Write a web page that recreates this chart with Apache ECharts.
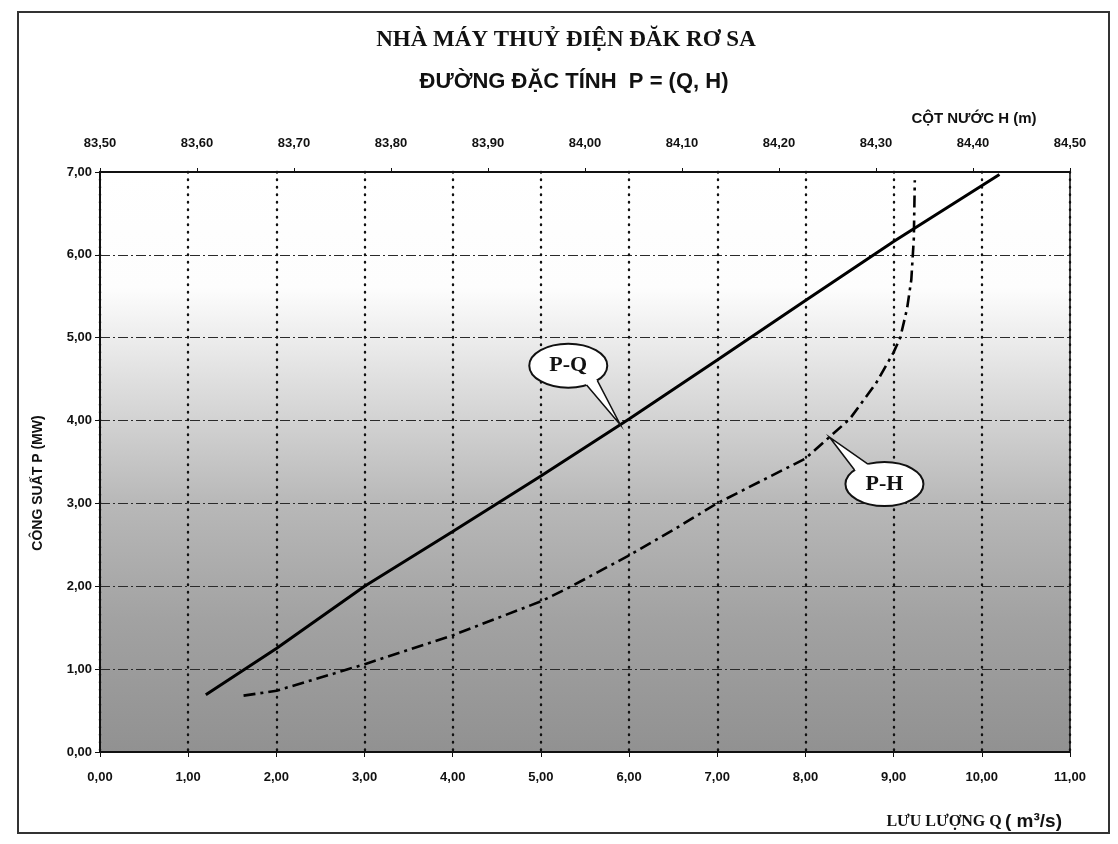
<!DOCTYPE html>
<html>
<head>
<meta charset="utf-8">
<title>Đường đặc tính P = (Q, H)</title>
<script src="https://cdn.jsdelivr.net/npm/echarts@6.0.0/dist/echarts.min.js"></script>
<style>
html, body { margin: 0; padding: 0; background: #fff; }
#chart { width: 1118px; height: 844px; }
</style>
</head>
<body>
<div id="chart"></div>
<script>
// đường P-Q : lưu lượng Q (m3/s) -> công suất P (MW)
var pqFlow  = [1.2, 2.0, 3.0, 4.0, 5.0, 6.0, 7.0, 8.0, 9.0, 10.2];
var pqPower = [0.69, 1.25, 2.0, 2.66, 3.33, 4.02, 4.73, 5.45, 6.16, 6.97];

// đường P-H : cột nước H (m) -> công suất P (MW)
var phHead  = [83.648, 83.682, 83.742, 83.773, 83.864, 83.955, 83.986, 84.045, 84.091, 84.136,
               84.227, 84.273, 84.300, 84.318, 84.325, 84.332, 84.3364, 84.339, 84.340];
var phPower = [0.68, 0.74, 0.95, 1.06, 1.41, 1.82, 2.0, 2.37, 2.68, 3.0,
               3.54, 4.02, 4.45, 4.82, 5.0, 5.35, 5.7, 6.2, 6.9];

// trục
var flowMin = 0, flowMax = 11, flowStep = 1;
var headMin = 83.5, headMax = 84.5, headStep = 0.1;
var powerMin = 0, powerMax = 7, powerStep = 1;

var numFont = "'Liberation Sans Narrow', 'Arial Narrow', 'Liberation Sans', Arial, sans-serif";
var serifFont = "'Liberation Serif', 'Times New Roman', serif";

function fmt(v) {
    return v.toFixed(2).replace('.', ',');
}

function zip(xs, ys) {
    var out = [];
    for (var i = 0; i < xs.length; i++) out.push([xs[i], ys[i]]);
    return out;
}

function interp(xs, ys, x) {
    for (var i = 0; i < xs.length - 1; i++) {
        if (x >= xs[i] && x <= xs[i + 1]) {
            var t = (x - xs[i]) / (xs[i + 1] - xs[i]);
            return ys[i] + t * (ys[i + 1] - ys[i]);
        }
    }
    return ys[ys.length - 1];
}

var chartDom = document.getElementById('chart');
var chart = echarts.init(chartDom);

var labelStyle = {
    color: '#111',
    fontWeight: 'bold',
    fontSize: 13,
    fontFamily: numFont,
    formatter: fmt
};

var option = {
    backgroundColor: '#fff',
    animation: false,
    grid: {
        left: 100,
        right: 48,
        top: 172,
        bottom: 92,
        show: true,
        borderColor: '#111',
        borderWidth: 1.5,
        backgroundColor: {
            type: 'linear', x: 0, y: 0, x2: 0, y2: 1,
            colorStops: [
                { offset: 0, color: '#ffffff' },
                { offset: 0.2, color: '#fdfdfd' },
                { offset: 0.3, color: '#eaeaea' },
                { offset: 0.43, color: '#d2d2d2' },
                { offset: 0.57, color: '#b8b8b8' },
                { offset: 0.77, color: '#a2a2a2' },
                { offset: 1, color: '#919191' }
            ]
        }
    },
    xAxis: [
        {
            type: 'value',
            position: 'bottom',
            min: flowMin, max: flowMax, interval: flowStep,
            axisLine: { show: true, lineStyle: { color: '#111', width: 2 } },
            axisTick: { show: true, length: 5, lineStyle: { color: '#111' } },
            axisLabel: Object.assign({ margin: 19 }, labelStyle),
            splitLine: { show: true, lineStyle: { type: [0.5, 7], color: '#111', width: 2.4, cap: 'round' } }
        },
        {
            type: 'value',
            position: 'top',
            min: headMin, max: headMax, interval: headStep,
            axisLine: { show: true, lineStyle: { color: '#111', width: 2 } },
            axisTick: { show: true, length: 4, lineStyle: { color: '#111' } },
            axisLabel: Object.assign({ margin: 22 }, labelStyle),
            splitLine: { show: false }
        }
    ],
    yAxis: {
        type: 'value',
        min: powerMin, max: powerMax, interval: powerStep,
        axisLine: { show: true, lineStyle: { color: '#111', width: 2 } },
        axisTick: { show: true, length: 5, lineStyle: { color: '#111' } },
        axisLabel: Object.assign({ margin: 8 }, labelStyle),
        splitLine: { show: true, lineStyle: { type: [10, 3, 2, 3], color: '#2a2a2a', width: 1.2 } }
    },
    series: [
        {
            name: 'P-Q',
            type: 'line',
            xAxisIndex: 0,
            yAxisIndex: 0,
            data: zip(pqFlow, pqPower),
            symbol: 'none',
            z: 5,
            lineStyle: { color: '#000', width: 3 }
        },
        {
            name: 'P-H',
            type: 'line',
            xAxisIndex: 1,
            yAxisIndex: 0,
            data: zip(phHead, phPower),
            symbol: 'none',
            z: 4,
            lineStyle: { color: '#000', width: 2.6, type: [12, 5, 3, 5] }
        }
    ]
};
chart.setOption(option);

// bong bóng chú thích
function bubble(tip, dx, dy, a1, a2, text) {
    var cx = tip[0] + dx, cy = tip[1] + dy, rx = 39, ry = 22;
    function onEdge(a, k) {
        var r = a * Math.PI / 180;
        return [cx + rx * k * Math.cos(r), cy + ry * k * Math.sin(r)];
    }
    var b1 = onEdge(a1, 1), b2 = onEdge(a2, 1);
    var b1in = onEdge(a1, 0.75), b2in = onEdge(a2, 0.75);
    return [
        { type: 'ellipse', z: 100, shape: { cx: cx, cy: cy, rx: rx, ry: ry },
          style: { fill: '#fff', stroke: '#111', lineWidth: 2 } },
        { type: 'polygon', z: 101, shape: { points: [b1in, b1, tip, b2, b2in] },
          style: { fill: '#fff', stroke: null } },
        { type: 'polyline', z: 102, shape: { points: [b1, tip, b2] },
          style: { fill: null, stroke: '#111', lineWidth: 1.5 } },
        { type: 'text', z: 103, x: cx, y: cy,
          style: { text: text, fill: '#111', font: 'bold 22px ' + serifFont, align: 'center', verticalAlign: 'middle' } }
    ];
}

var tipPQ = chart.convertToPixel({ xAxisIndex: 0, yAxisIndex: 0 }, [5.9, interp(pqFlow, pqPower, 5.9)]);
var hTip = 84.252;
var tipPH = chart.convertToPixel({ xAxisIndex: 1, yAxisIndex: 0 }, [hTip, interp(phHead, phPower, hTip)]);

var graphics = [
    { type: 'rect', z: 0, shape: { x: 18, y: 12, width: 1091, height: 821 },
      style: { fill: null, stroke: '#333', lineWidth: 2 } },
    { type: 'text', x: 566, y: 40,
      style: { text: 'NHÀ MÁY THUỶ ĐIỆN ĐĂK RƠ SA', fill: '#111', font: 'bold 23px ' + serifFont, align: 'center', verticalAlign: 'middle' } },
    { type: 'text', x: 574, y: 82,
      style: { text: 'ĐƯỜNG ĐẶC TÍNH  P = (Q, H)', fill: '#111', font: 'bold 22px ' + numFont, align: 'center', verticalAlign: 'middle' } },
    { type: 'text', x: 974, y: 119,
      style: { text: 'CỘT NƯỚC H (m)', fill: '#111', font: 'bold 15px ' + numFont, align: 'center', verticalAlign: 'middle' } },
    { type: 'text', x: 38, y: 483, rotation: Math.PI / 2,
      style: { text: 'CÔNG SUẤT P (MW)', fill: '#111', font: 'bold 14px ' + numFont, align: 'center', verticalAlign: 'middle' } },
    { type: 'text', x: 1062, y: 822,
      style: {
          text: '{a|LƯU LƯỢNG Q} {b|( m³/s)}',
          align: 'right', verticalAlign: 'middle',
          rich: {
              a: { font: 'bold 16px ' + serifFont, fill: '#111' },
              b: { font: 'bold 19px ' + numFont, fill: '#111' }
          }
      } }
].concat(bubble(tipPQ, -52, -59, 42, 62, 'P-Q'))
 .concat(bubble(tipPH, 55, 47, 220, 245, 'P-H'));

chart.setOption({ graphic: graphics });
</script>
</body>
</html>
